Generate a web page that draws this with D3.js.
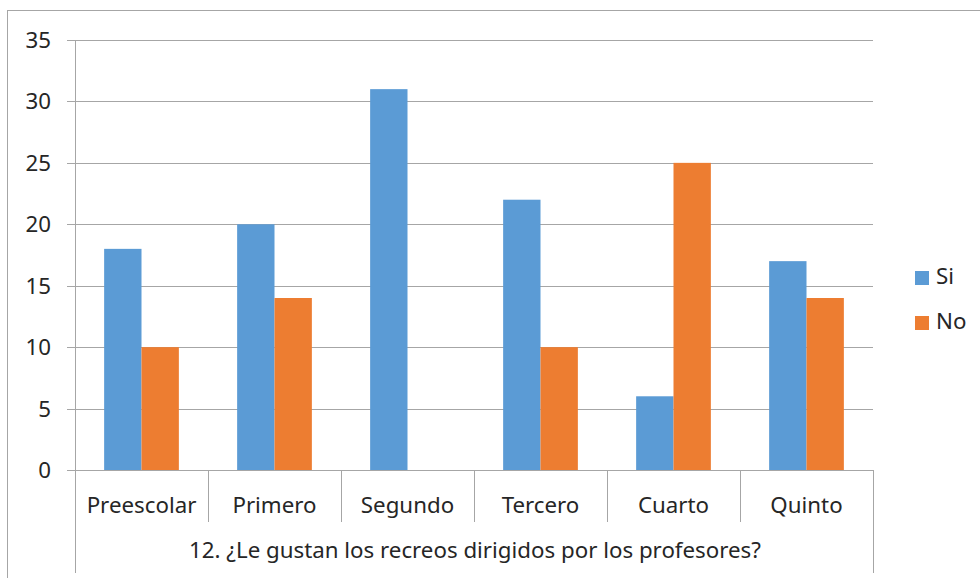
<!DOCTYPE html>
<html><head><meta charset="utf-8">
<script src="https://cdn.jsdelivr.net/npm/d3@7"></script>
<style>body{margin:0;background:#fff}svg{display:block}</style>
</head><body><div id="chart"></div>
<script>
const categories = ["Preescolar","Primero","Segundo","Tercero","Cuarto","Quinto"];
const seriesNames = ["Si","No"];
const siValues = [18,20,31,22,6,17];
const noValues = [10,14,0,10,25,14];
const yTicks = [0,5,10,15,20,25,30,35];
const axisTitle = "12. ¿Le gustan los recreos dirigidos por los profesores?";
const colors = {Si:"#5B9BD5", No:"#ED7D31"};

const W=980,H=578;
const svg=d3.select("#chart").append("svg").attr("width",W).attr("height",H);
const font="'Noto Sans', sans-serif";
const fs=22.3;
const textColor="#262626";
svg.append("rect").attr("x",7.5).attr("y",10.5).attr("width",W).attr("height",H).attr("fill","#fff").attr("stroke","#a6a6a6");

const pL=75,pR=873,pT=40,pB=470;
const y=d3.scaleLinear().domain([0,35]).range([pB,pT]);
const x0=d3.scaleBand().domain(categories).range([pL,pR]);
const x1=d3.scaleBand().domain(seriesNames).range([0,x0.bandwidth()]).paddingOuter(0.78).paddingInner(0);

// gridlines
svg.append("g").selectAll("line").data(yTicks).join("line")
  .attr("x1",pL-8).attr("x2",pR).attr("y1",d=>Math.round(y(d))+0.5).attr("y2",d=>Math.round(y(d))+0.5)
  .attr("stroke","#a6a6a6").attr("stroke-width",1);
svg.append("g").selectAll("text").data(yTicks).join("text")
  .attr("x",51).attr("y",d=>y(d)).attr("dy","0.36em").attr("text-anchor","end")
  .attr("font-family",font).attr("font-size",fs).attr("fill",textColor).text(d=>d);

// bars
const data=categories.map((c,i)=>({cat:c,vals:[{s:"Si",v:siValues[i]},{s:"No",v:noValues[i]}]}));
const g=svg.append("g").selectAll("g").data(data).join("g").attr("transform",d=>`translate(${x0(d.cat)},0)`);
g.selectAll("rect").data(d=>d.vals).join("rect")
  .attr("x",d=>x1(d.s)).attr("width",x1.bandwidth())
  .attr("y",d=>y(d.v)).attr("height",d=>pB-y(d.v)).attr("fill",d=>colors[d.s]);

// axis lines
svg.append("line").attr("x1",pL+0.5).attr("x2",pL+0.5).attr("y1",pT).attr("y2",573).attr("stroke","#a6a6a6");
svg.append("line").attr("x1",pR+0.5).attr("x2",pR+0.5).attr("y1",pB).attr("y2",573).attr("stroke","#a6a6a6");
const seps=categories.slice(1).map(c=>x0(c));
svg.append("g").selectAll("line").data(seps).join("line")
  .attr("x1",d=>Math.round(d)+0.5).attr("x2",d=>Math.round(d)+0.5).attr("y1",pB).attr("y2",522).attr("stroke","#a6a6a6");
svg.append("g").selectAll("text").data(categories).join("text")
  .attr("x",d=>x0(d)+x0.bandwidth()/2).attr("y",513).attr("text-anchor","middle")
  .attr("font-family",font).attr("font-size",fs).attr("fill",textColor).text(d=>d);
svg.append("text").attr("x",(pL+pR)/2+1).attr("y",558).attr("text-anchor","middle")
  .attr("font-family",font).attr("font-size",fs).attr("fill",textColor).text(axisTitle);

// legend
const lg=svg.append("g").selectAll("g").data(seriesNames).join("g").attr("transform",(d,i)=>`translate(915,${271+i*45})`);
lg.append("rect").attr("width",14).attr("height",14).attr("fill",d=>colors[d]);
lg.append("text").attr("x",21).attr("y",13).attr("font-family",font).attr("font-size",fs).attr("fill",textColor).text(d=>d);
</script></body></html>
